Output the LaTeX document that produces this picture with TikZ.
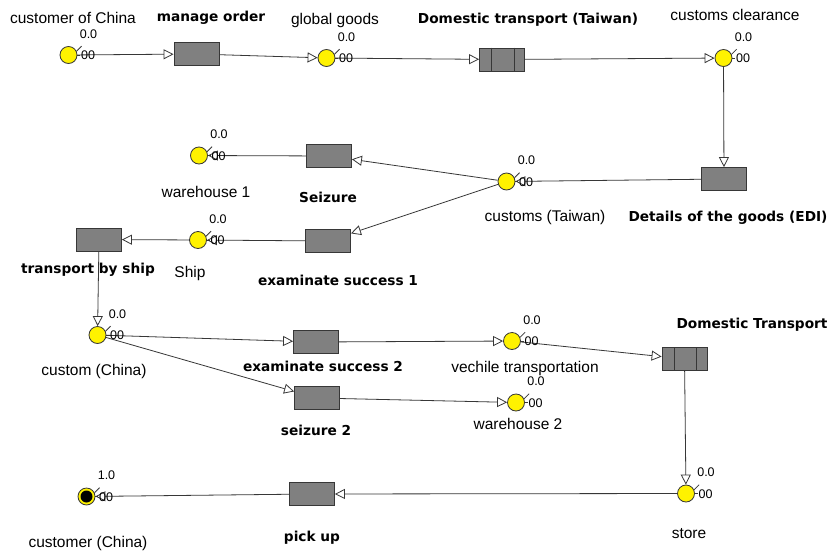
\documentclass[tikz,border=0pt]{standalone}
\usepackage{fontspec}
\setmainfont{Liberation Sans}
\newfontfamily\boldlab{DejaVu Sans}
\usetikzlibrary{arrows.meta,calc}
\definecolor{trgray}{RGB}{128,128,128}
\definecolor{edgec}{RGB}{55,55,55}
\tikzset{
  place/.style={circle,draw=edgec,fill=yellow,line width=0.8pt,minimum size=17pt,inner sep=0pt},
  trans/.style={rectangle,draw=edgec,fill=trgray,line width=0.8pt,minimum width=45pt,minimum height=23pt,inner sep=0pt},
  lab/.style={font=\fontsize{15.5}{18}\selectfont,text=black,inner sep=0pt},
  blab/.style={font=\boldlab\fontsize{13.7}{16}\selectfont\bfseries,text=black,inner sep=0pt},
  num/.style={font=\fontsize{12.5}{14}\selectfont,text=black,inner sep=0pt},
  arc/.style={draw=edgec,line width=0.8pt,-{Triangle[open,length=10pt,width=10pt]}},
}
\newcommand{\placemarks}[2]{%
  \draw[edgec,line width=0.8pt] (#1.25) -- ++(5,-5);
  \draw[edgec,line width=0.8pt] (#1.east) -- ++(3,0);
  \node[num,anchor=west] at ($(#1.east)+(3.5,0.5)$) {00};
  \node[num] at ($(#1.center)+(20,-21)$) {#2};
}
\begin{document}
\begin{tikzpicture}[x=1pt,y=-1pt]
\useasboundingbox[fill=white] (0,0) rectangle (830,552);
% places
\node[place] (p1) at (68.5,55) {};
\node[place] (p2) at (326.5,58) {};
\node[place] (p3) at (723.5,58) {};
\node[place] (p4) at (506.5,181.5) {};
\node[place] (p5) at (199,155.5) {};
\node[place] (p6) at (198,240) {};
\node[place] (p7) at (97.5,335) {};
\node[place] (p8) at (512,341) {};
\node[place] (p9) at (516,402.5) {};
\node[place] (p10) at (686,493.5) {};
\node[place] (p11) at (86.5,496.5) {};
\fill[black] (p11.center) circle (6pt);
% transitions
\node[trans] (t1) at (196.5,54) {};
\node[trans] (t2) at (502,59.5) {};
\node[trans] (t3) at (724,179) {};
\node[trans] (t4) at (329,156) {};
\node[trans] (t5) at (328,241) {};
\node[trans] (t6) at (99,239.5) {};
\node[trans] (t7) at (316,342) {};
\node[trans] (t8) at (317,398) {};
\node[trans] (t9) at (684.5,359) {};
\node[trans] (t10) at (312,494) {};
\foreach \t in {t2,t9}{
  \draw[edgec,line width=0.8pt] ($(\t.north west)+(12.5,0)$) -- ($(\t.south west)+(12.5,0)$);
  \draw[edgec,line width=0.8pt] ($(\t.north east)+(-11,0)$) -- ($(\t.south east)+(-11,0)$);
}
% arcs
\draw[arc] (p1) -- (t1);
\draw[arc] (t1) -- (p2);
\draw[arc] (p2) -- (t2);
\draw[arc] (t2) -- (p3);
\draw[arc] (p3) -- (t3);
\draw[arc] (t3) -- (p4);
\draw[arc] (p4) -- (t4);
\draw[arc] (p4) -- (t5);
\draw[arc] (t4) -- (p5);
\draw[arc] (t5) -- (p6);
\draw[arc] (p6) -- (t6);
\draw[arc] (t6) -- (p7);
\draw[arc] (p7) -- (t7);
\draw[arc] (p7) -- (t8);
\draw[arc] (t7) -- (p8);
\draw[arc] (t8) -- (p9);
\draw[arc] (p8) -- (t9);
\draw[arc] (t9) -- (p10);
\draw[arc] (p10) -- (t10);
\draw[arc] (t10) -- (p11);
% place marks
\placemarks{p1}{0.0}
\placemarks{p2}{0.0}
\placemarks{p3}{0.0}
\placemarks{p4}{0.0}
\placemarks{p5}{0.0}
\placemarks{p6}{0.0}
\placemarks{p7}{0.0}
\placemarks{p8}{0.0}
\placemarks{p9}{0.0}
\placemarks{p10}{0.0}
\placemarks{p11}{1.0}
% labels
\node[lab] (l1) at (73,18) {customer of China};
\node[blab] (l2) at (211,18) {manage order};
\node[lab] (l3) at (335,20) {global goods};
\node[blab] (l4) at (528,20) {Domestic transport (Taiwan)};
\node[lab] (l5) at (735,15) {customs clearance};
\node[lab] (l6) at (206,192) {warehouse 1};
\node[blab] (l7) at (328,197) {Seizure};
\node[lab] (l8) at (545,217) {customs (Taiwan)};
\node[blab] (l9) at (728,218) {Details of the goods (EDI)};
\node[blab] (l10) at (88,270) {transport by ship};
\node[lab] (l11) at (190,273) {Ship};
\node[blab] (l12) at (338,280) {examinate success 1};
\node[lab] (l13) at (94,371) {custom (China)};
\node[blab] (l14) at (323,366) {examinate success 2};
\node[lab] (l15) at (525,368) {vechile transportation};
\node[blab] (l16) at (752,325) {Domestic Transport};
\node[blab] (l17) at (316,430) {seizure 2};
\node[lab] (l18) at (518,424) {warehouse 2};
\node[lab] (l19) at (88,543) {customer (China)};
\node[blab] (l20) at (312,538) {pick up};
\node[lab] (l21) at (689,534) {store};
\end{tikzpicture}
\end{document}
